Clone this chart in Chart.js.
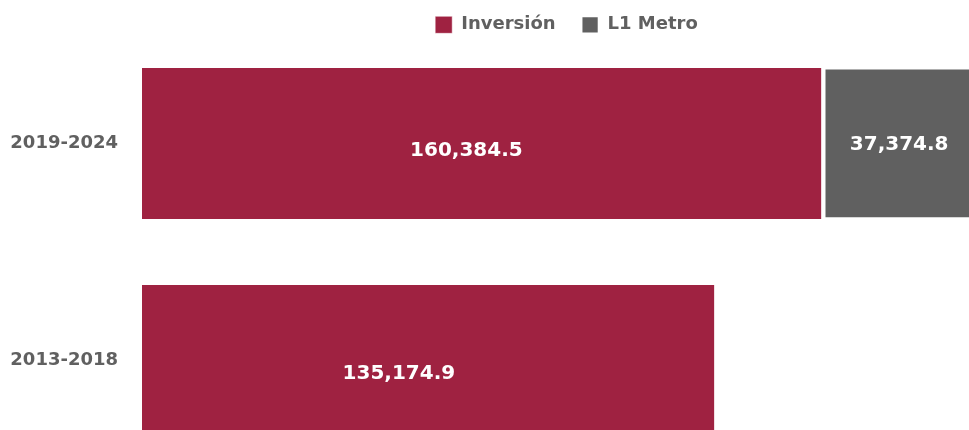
<!DOCTYPE html>
<html><head><meta charset="utf-8">
<script src="https://cdn.jsdelivr.net/npm/chart.js@4.4.0/dist/chart.umd.min.js"></script>
<style>
html,body{margin:0;padding:0;overflow:hidden;background:#fff;width:969px;height:430px}
#c{display:block;width:1000px;height:504px}
</style></head><body>
<canvas id="c" width="1000" height="504"></canvas>
<script>
const categories = ['2019-2024', '2013-2018'];
const inversion = [160384.5, 135174.9];
const l1Metro = [37374.8, 0];
const seriesNames = ['Inversión', 'L1 Metro'];
const xMax = 200000;

const RED = '#9F2241', GRAY = '#606060', TXT = '#606060';
const FONT = '"DejaVu Sans", sans-serif';

function fmt(v){ return v.toLocaleString('en-US',{minimumFractionDigits:1,maximumFractionDigits:1}); }

const valueLabels = {
  id:'valueLabels',
  afterDatasetsDraw(chart, args, opts){
    const ctx = chart.ctx;
    ctx.save();
    ctx.font = 'bold 20px ' + FONT;
    ctx.fillStyle = '#fff'; ctx.textAlign = 'center'; ctx.textBaseline = 'middle';
    chart.data.datasets.forEach((ds,i)=>{
      const meta = chart.getDatasetMeta(i);
      const off = (opts.offsets && opts.offsets[i]) || {dx:[0],dy:[0]};
      meta.data.forEach((el,j)=>{
        const v = ds.data[j]; if(!v) return;
        const p = el.getCenterPoint();
        const dx = off.dx[j] !== undefined ? off.dx[j] : off.dx[0];
        const dy = off.dy[j] !== undefined ? off.dy[j] : off.dy[0];
        ctx.fillText(fmt(v), p.x + dx, p.y + dy);
      });
    });
    ctx.restore();
  }
};

new Chart(document.getElementById('c'), {
  type:'bar',
  data:{
    labels: categories,
    datasets:[
      {label: seriesNames[0], data: inversion, backgroundColor: RED, borderColor:'#fff',
       borderWidth:{right:2,left:0,top:0,bottom:0}, borderSkipped:false, barThickness:151},
      {label: seriesNames[1], data: l1Metro, backgroundColor: GRAY, borderColor:'#fff',
       borderWidth:{left:3,top:2,bottom:2,right:0}, borderSkipped:false, barThickness:151}
    ]
  },
  options:{
    indexAxis:'y',
    responsive:false, animation:false, devicePixelRatio:1,
    layout:{padding:{left:0,right:9,top:-11,bottom:2}},
    scales:{
      x:{stacked:true, min:0, max:xMax, display:false},
      y:{stacked:true, grid:{display:false, drawTicks:false}, border:{display:false},
         ticks:{padding:24, color:TXT, font:{family:FONT, size:18, weight:'bold'}},
         afterFit(s){ s.width = 142; }}
    },
    plugins:{
      legend:{position:'top', fullSize:false, maxHeight:45,
        labels:{boxWidth:17, boxHeight:17, padding:26, color:TXT,
          font:{family:FONT, size:18, weight:'bold'}}},
      tooltip:{enabled:false},
      valueLabels:{offsets:[{dx:[-16,-30], dy:[7,13]}, {dx:[-3], dy:[1]}]}
    }
  },
  plugins:[valueLabels]
});
</script>
</body></html>
